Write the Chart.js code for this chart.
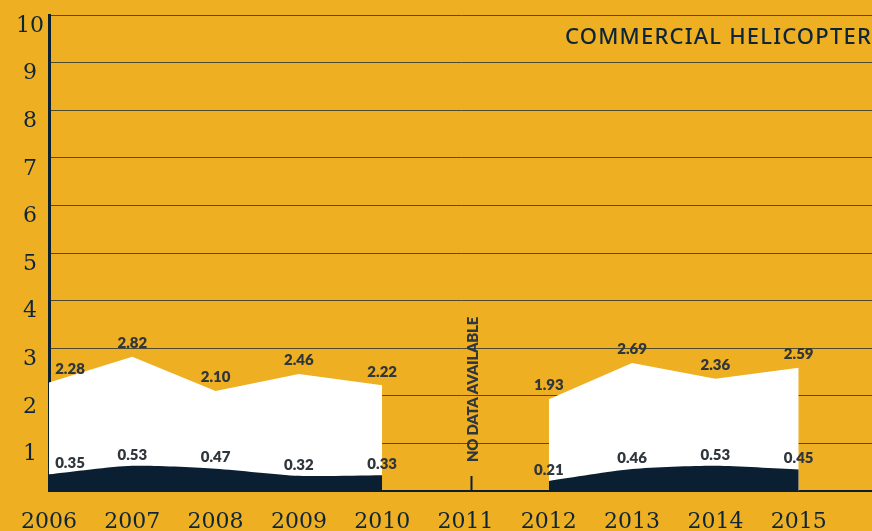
<!DOCTYPE html>
<html>
<head>
<meta charset="utf-8">
<script src="https://cdn.jsdelivr.net/npm/chart.js@4.4.1/dist/chart.umd.min.js"></script>
<style>
  html, body { margin: 0; padding: 0; background: #EEAF22; }
  #wrap { position: relative; width: 872px; height: 531px; }
</style>
</head>
<body>
<div id="wrap"><canvas id="grafico" width="872" height="531"></canvas></div>
<script>
// dados
const anos = [2006, 2007, 2008, 2009, 2010, 2011, 2012, 2013, 2014, 2015];
const taxaTotal = [2.28, 2.82, 2.10, 2.46, 2.22, null, 1.93, 2.69, 2.36, 2.59];
const taxaFatal = [0.35, 0.53, 0.47, 0.32, 0.33, null, 0.21, 0.46, 0.53, 0.45];
const marcasY = [0, 1, 2, 3, 4, 5, 6, 7, 8, 9, 10];
const titulo = "COMMERCIAL HELICOPTER";
const textoSemDados = "NO DATA AVAILABLE";
const anoSemDados = 2011;

const AZUL = "#0b1f33";
const TEXTO_ROTULO = "#2f363c";

const pontos = (valores) => anos.map((a, i) => ({ x: a, y: valores[i] }));

// desenha rótulos, título e aviso de "sem dados" por cima de tudo
const pluginTextos = {
  id: "textos",
  afterDraw(chart) {
    const ctx = chart.ctx;
    const xS = chart.scales.x;
    const yS = chart.scales.y;
    ctx.save();

    // rótulos dos valores
    ctx.font = "800 15px Lato";
    ctx.fillStyle = TEXTO_ROTULO;
    ctx.textAlign = "center";
    ctx.textBaseline = "middle";
    [[0, taxaTotal, -13.5], [1, taxaFatal, -11]].forEach(([ds, valores, dy]) => {
      const meta = chart.getDatasetMeta(ds);
      valores.forEach((v, i) => {
        if (v === null) return;
        const p = meta.data[i];
        const dx = i === 0 ? 21 : 0;
        ctx.fillText(v.toFixed(2), p.x + dx, p.y + dy);
      });
    });

    // título
    ctx.font = "500 22px 'Noto Sans'";
    ctx.fillStyle = "#0d2538";
    ctx.textAlign = "right";
    ctx.textBaseline = "middle";
    const w0 = ctx.measureText(titulo).width;
    ctx.letterSpacing = ((307 - w0) / titulo.length).toFixed(2) + "px";
    ctx.fillText(titulo, 872, 38);
    ctx.letterSpacing = "0px";

    // marca de 2011 e texto vertical
    const x11 = xS.getPixelForValue(anoSemDados) + 6;
    const yBase = yS.getPixelForValue(0);
    ctx.strokeStyle = AZUL;
    ctx.lineWidth = 2;
    ctx.beginPath();
    ctx.moveTo(x11, yBase);
    ctx.lineTo(x11, yBase - 15);
    ctx.stroke();

    ctx.translate(x11 + 2, yBase - 29);
    ctx.rotate(-Math.PI / 2);
    ctx.font = "800 15px Lato";
    ctx.fillStyle = TEXTO_ROTULO;
    ctx.textAlign = "left";
    ctx.textBaseline = "middle";
    const w1 = ctx.measureText(textoSemDados).width;
    ctx.letterSpacing = ((145 - w1) / textoSemDados.length).toFixed(2) + "px";
    ctx.fillText(textoSemDados, 0, 0);
    ctx.restore();
  }
};

const ctx = document.getElementById("grafico").getContext("2d");

new Chart(ctx, {
  type: "line",
  data: {
    datasets: [
      {
        label: "Total",
        data: pontos(taxaTotal),
        backgroundColor: "#ffffff",
        borderWidth: 0,
        pointRadius: 0,
        fill: "origin",
        tension: 0,
        spanGaps: false,
        order: 2
      },
      {
        label: "Fatal",
        data: pontos(taxaFatal),
        backgroundColor: AZUL,
        borderWidth: 0,
        pointRadius: 0,
        fill: "origin",
        tension: 0.25,
        spanGaps: false,
        order: 1
      }
    ]
  },
  options: {
    responsive: false,
    animation: false,
    devicePixelRatio: 1,
    layout: { padding: { top: 15, left: 0, right: 0, bottom: 0 } },
    plugins: {
      legend: { display: false },
      tooltip: { enabled: false }
    },
    scales: {
      x: {
        type: "linear",
        min: anos[0],
        max: 2015.88,
        afterBuildTicks: (s) => { s.ticks = anos.map(a => ({ value: a })); },
        afterFit: (s) => { s.height = 40; },
        grid: { display: false, drawTicks: false },
        border: { display: true, color: AZUL, width: 2 },
        ticks: {
          padding: 18,
          color: "#0d2538",
          font: { family: "'DejaVu Serif'", size: 22 },
          maxRotation: 0,
          autoSkip: false,
          callback: (v) => String(v)
        }
      },
      y: {
        min: 0,
        max: 10,
        z: 1,
        afterBuildTicks: (s) => { s.ticks = marcasY.map(v => ({ value: v })); },
        afterFit: (s) => { s.width = 49; s.paddingTop = 0; s.paddingBottom = 0; },
        grid: { color: "rgba(11,31,51,0.7)", lineWidth: 1, drawTicks: false },
        border: { display: true, color: AZUL, width: 3 },
        ticks: {
          padding: 5,
          crossAlign: "center",
          labelOffset: 11,
          color: "#0d2538",
          font: { family: "'DejaVu Serif'", size: 22 },
          callback: (v) => (v === 0 ? "" : String(v))
        }
      }
    }
  },
  plugins: [pluginTextos]
});
</script>
</body>
</html>
